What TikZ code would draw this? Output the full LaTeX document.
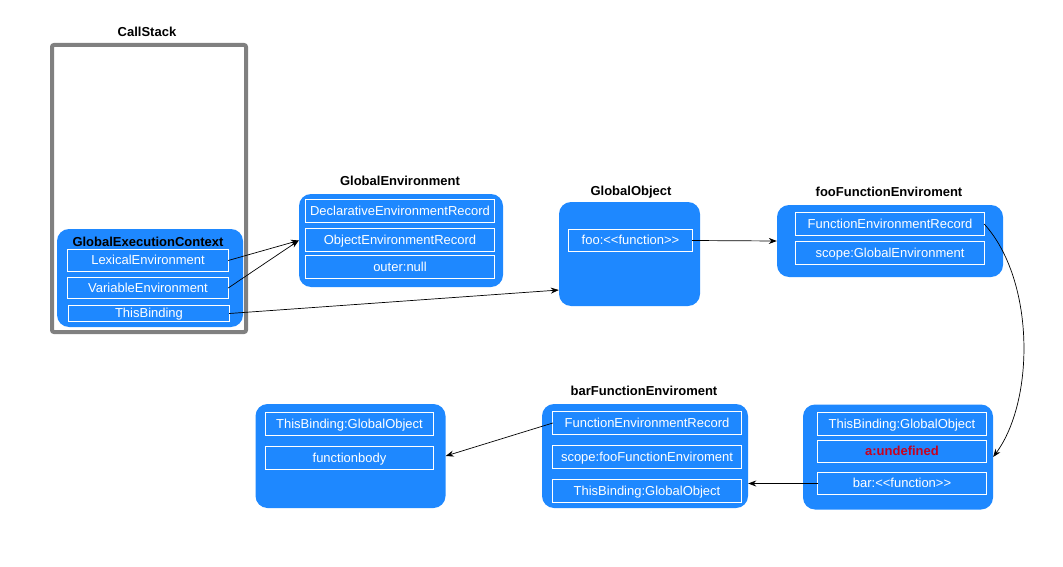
\documentclass[tikz,border=0pt]{standalone}
\usepackage{fontspec}
\setmainfont{Liberation Sans}
\usetikzlibrary{arrows.meta,calc}
\definecolor{envblue}{RGB}{30,136,255}
\definecolor{undefred}{RGB}{200,0,30}
\tikzset{
	env/.style={fill=envblue, rounded corners=12pt, inner sep=0pt},
	rec/.style={draw=white, double=envblue, double distance=0.6pt, line width=0.9pt, fill=envblue, text=white, inner sep=0pt, text height=9pt, text depth=0.5pt, font=\fontsize{13}{15}\selectfont},
	ttl/.style={font=\bfseries\fontsize{13}{15}\selectfont},
	link/.style={-{Stealth[length=8pt,width=6pt]}, line width=0.7pt}
}
\begin{document}
\begin{tikzpicture}[x=1pt,y=-1pt]
	\useasboundingbox (0,0) rectangle (1063,567);

	% stos
	\node[draw=gray, line width=4pt, rounded corners=2pt, minimum width=194, minimum height=287, inner sep=0pt] (callstack) at (149,188.5) {};
	\node[ttl] (stacktitle) at (147,32) {CallStack};

	% kontenery
	\node[env, minimum width=186, minimum height=98] (gec) at (150,278) {};
	\node[env, minimum width=204, minimum height=93] (genv) at (401,240.5) {};
	\node[env, minimum width=141, minimum height=104] (gobj) at (629.5,254) {};
	\node[env, minimum width=226, minimum height=72] (fooenv) at (890,241) {};
	\node[env, minimum width=190, minimum height=104] (fnbody) at (350.5,456) {};
	\node[env, minimum width=206, minimum height=104] (barenv) at (645,456) {};
	\node[env, minimum width=190, minimum height=105] (fooctx) at (898,457) {};

	% tytuly
	\node[ttl] (gectitle) at (148,242) {GlobalExecutionContext};
	\node[ttl] (genvtitle) at (400,181) {GlobalEnvironment};
	\node[ttl] (gobjtitle) at (631,192) {GlobalObject};
	\node[ttl] (fooenvtitle) at (889,192) {fooFunctionEnviroment};
	\node[ttl] (barenvtitle) at (644,391) {barFunctionEnviroment};

	% wiersze
	\node[rec, minimum width=159.5, minimum height=20.5] (lexenv) at (148,260.5) {LexicalEnvironment};
	\node[rec, minimum width=159.5, minimum height=19.5] (varenv) at (148,288) {VariableEnvironment};
	\node[rec, minimum width=159.5, minimum height=14.5] (thisbind) at (149,313.5) {ThisBinding};

	\node[rec, minimum width=187.5, minimum height=21.5] (declrec) at (400,211) {DeclarativeEnvironmentRecord};
	\node[rec, minimum width=187.5, minimum height=21.5] (objrec) at (400,240) {ObjectEnvironmentRecord};
	\node[rec, minimum width=187.5, minimum height=21.5] (outernull) at (400,267) {outer:null};

	\node[rec, minimum width=122.5, minimum height=20.5] (foofn) at (630.5,240.5) {foo:<{}<function>{}>};

	\node[rec, minimum width=187.5, minimum height=21.5] (foorec) at (890,224) {FunctionEnvironmentRecord};
	\node[rec, minimum width=187.5, minimum height=21.5] (fooscope) at (890,253) {scope:GlobalEnvironment};

	\node[rec, minimum width=166.5, minimum height=21.5] (bodythis) at (349.5,424) {ThisBinding:GlobalObject};
	\node[rec, minimum width=166.5, minimum height=21.5] (bodytext) at (349.5,458) {functionbody};

	\node[rec, minimum width=187.5, minimum height=21.5] (barrec) at (647,423) {FunctionEnvironmentRecord};
	\node[rec, minimum width=187.5, minimum height=21.5] (barscope) at (647,457) {scope:fooFunctionEnviroment};
	\node[rec, minimum width=187.5, minimum height=21.5] (barthis) at (647,491) {ThisBinding:GlobalObject};

	\node[rec, minimum width=167.5, minimum height=21.5] (foothis) at (902,424) {ThisBinding:GlobalObject};
	\node[rec, minimum width=167.5, minimum height=20.5, text=undefred, font=\bfseries\fontsize{13}{15}\selectfont] (aundef) at (902,451.5) {a:undefined};
	\node[rec, minimum width=167.5, minimum height=20.5] (barfn) at (902,483.5) {bar:<{}<function>{}>};

	% strzalki
	\draw[link] (lexenv.east) -- (genv.west);
	\draw[link] (varenv.east) -- (genv.west);
	\draw[link] (thisbind.east) -- (gobj.207);
	\draw[link] (foofn.east) -- (fooenv.west);
	\draw[link] (foorec.east) .. controls (1035,280) and (1035,400) .. (fooctx.east);
	\draw[link] (barfn.west) -- (barfn.west -| barenv.east);
	\draw[link] (barrec.west) -- (fnbody.east);
\end{tikzpicture}
\end{document}
